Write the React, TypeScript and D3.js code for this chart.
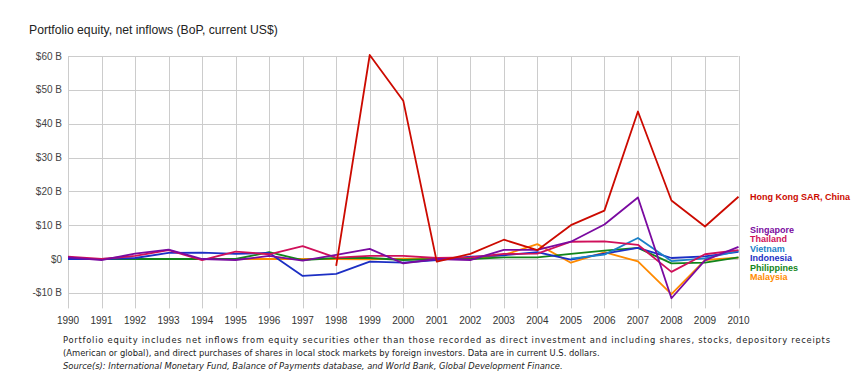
import React, { useEffect } from 'react';
import * as d3 from 'd3';

// years on the x axis
const years = d3.range(1990, 2011);

// values in billions of current US$, null = no data
const hongKong = [null, null, null, null, null, null, null, null, -2.0, 60.3, 46.8, -0.8, 1.5, 5.7, 2.6, 10.0, 14.3, 43.6, 17.3, 9.6, 18.4];
const singapore = [0.5, -0.3, 1.6, 2.8, 0.0, -0.3, 0.9, -0.5, 1.2, 3.0, -1.3, 0.0, -0.3, 2.7, 2.7, 5.1, 10.2, 18.2, -11.6, -0.4, 3.6];
const thailand = [0.7, 0.0, 0.9, 2.6, -0.3, 2.2, 1.4, 3.8, 0.4, 0.9, 0.9, 0.3, 0.5, 1.5, 1.6, 5.1, 5.2, 4.2, -3.8, 1.4, 2.6];
const vietnam = [null, null, null, null, null, null, null, null, null, null, null, null, null, null, null, 0.1, 1.3, 6.2, -0.6, 0.2, 2.4];
const indonesia = [0.0, 0.0, 0.3, 1.8, 1.9, 1.5, 1.8, -5.0, -4.4, -0.8, -1.1, -0.3, 0.7, 1.1, 2.0, -0.2, 1.6, 3.3, 0.3, 0.8, 2.1];
const philippines = [0.0, 0.0, 0.0, 0.0, 0.0, 0.0, 2.0, -0.3, 0.3, 0.3, -0.3, 0.0, 0.0, 0.5, 0.5, 1.5, 2.5, 3.3, -1.3, -1.1, 0.5];
const malaysia = [0.0, 0.0, 0.0, 0.0, 0.0, 0.0, 0.0, 0.0, 0.0, -0.1, 0.1, 0.0, 0.0, 1.2, 4.4, -1.1, 2.0, -0.7, -10.4, -0.3, 0.4];

const yTicks = [-10, 0, 10, 20, 30, 40, 50, 60];

interface Series {
  name: string;
  color: string;
  values: (number | null)[];
}

// drawing order, bottom to top
const series: Series[] = [
  { name: 'Malaysia', color: '#ff8a00', values: malaysia },
  { name: 'Philippines', color: '#12851a', values: philippines },
  { name: 'Indonesia', color: '#1c2fc4', values: indonesia },
  { name: 'Vietnam', color: '#1a80c8', values: vietnam },
  { name: 'Thailand', color: '#d0105a', values: thailand },
  { name: 'Singapore', color: '#7a0aa0', values: singapore },
  { name: 'Hong Kong SAR, China', color: '#cc0a00', values: hongKong },
];

// footnote: a justified paragraph, so only the first line is stretched
const footLines = [
  { text: 'Portfolio equity includes net inflows from equity securities other than those recorded as direct investment and including shares, stocks, depository receipts', justify: 767, italic: false },
  { text: '(American or global), and direct purchases of shares in local stock markets by foreign investors. Data are in current U.S. dollars.', justify: 0, italic: false },
  { text: 'Source(s):  International Monetary Fund, Balance of Payments database, and World Bank, Global Development Finance.', justify: 0, italic: true },
];

const W = 859;
const H = 388;

const App: React.FC = () => {
  useEffect(() => {
    document.body.style.margin = '0';
  }, []);

  const x = d3.scaleLinear().domain([1990, 2010]).range([68, 738.5]);
  const y = d3.scaleLinear().domain([-14.6, 60]).range([308.4, 56]);

  const line = d3
    .line<number | null>()
    .defined(d => d !== null)
    .x((_, i) => x(years[i]))
    .y(d => y(d as number));

  // end labels: Hong Kong on its own, the rest stacked around their mean
  const hk = series.find(s => s.name.startsWith('Hong'))!;
  const others = series
    .filter(s => s !== hk)
    .map(s => ({ s, v: s.values[s.values.length - 1] as number }))
    .sort((a, b) => b.v - a.v);
  const gap = 9.4;
  const meanY = d3.mean(others, o => y(o.v))!;
  const labels = [
    { s: hk, ly: y(hk.values[hk.values.length - 1] as number) },
    ...others.map((o, i) => ({ s: o.s, ly: meanY + 0.8 + (i - (others.length - 1) / 2) * gap })),
  ];

  const [y0, y1] = y.range();

  return (
    <svg width={W} height={H} style={{ display: 'block', background: '#fff' }} fontFamily="'Liberation Sans', Arial, sans-serif">
      <text x={29} y={34} fontSize={12.2} fill="#222">
        Portfolio equity, net inflows (BoP, current US$)
      </text>

      {/* grid */}
      <g stroke="#cccccc" strokeWidth={1}>
        {yTicks.map(t => (
          <line key={t} x1={x.range()[0]} x2={x.range()[1]} y1={Math.round(y(t)) + 0.5} y2={Math.round(y(t)) + 0.5} />
        ))}
        {years.map(yr => (
          <line key={yr} x1={Math.round(x(yr)) + 0.5} x2={Math.round(x(yr)) + 0.5} y1={y1} y2={y0} />
        ))}
      </g>

      {/* y tick labels */}
      <g fontSize={10} fill="#444" textAnchor="end">
        {yTicks.map(t => (
          <text key={t} x={62} y={y(t)} dy="0.35em">
            {t === 0 ? '$0' : `${t < 0 ? '-' : ''}$${Math.abs(t)} B`}
          </text>
        ))}
      </g>

      {/* x tick labels */}
      <g fontSize={10} fill="#333" textAnchor="middle">
        {years.map(yr => (
          <text key={yr} x={x(yr)} y={324}>
            {yr}
          </text>
        ))}
      </g>

      {/* lines */}
      <g fill="none" strokeWidth={1.8} strokeLinejoin="round">
        {series.map(s => (
          <path key={s.name} d={line(s.values) || ''} stroke={s.color} />
        ))}
      </g>

      {/* end labels */}
      <g fontSize={9} fontWeight="bold">
        {labels.map(l => (
          <text key={l.s.name} x={750} y={l.ly} dy="0.35em" fill={l.s.color}>
            {l.s.name}
          </text>
        ))}
      </g>

      {/* footnote */}
      <g fontFamily="'DejaVu Sans Condensed', 'Liberation Sans', sans-serif" fontSize={9.3} fill="#222">
        {footLines.map((f, i) => (
          <text
            key={i}
            x={63}
            y={343 + i * 13}
            fontStyle={f.italic ? 'italic' : 'normal'}
            {...(f.justify ? { textLength: f.justify, lengthAdjust: 'spacing' } : {})}
          >
            {f.text}
          </text>
        ))}
      </g>
    </svg>
  );
};

export default App;
